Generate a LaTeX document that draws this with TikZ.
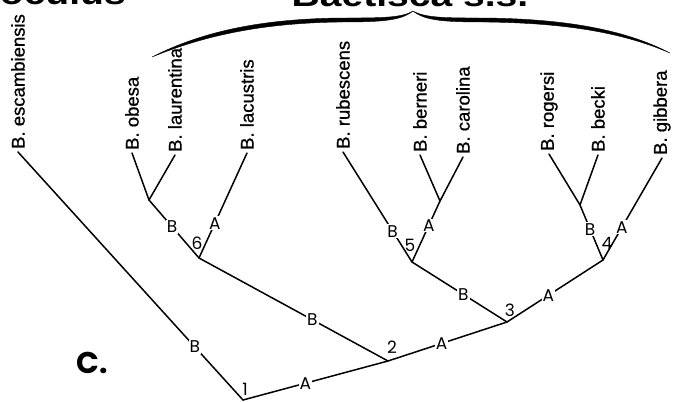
\documentclass[tikz,border=0pt]{standalone}
\usepackage{fontspec}
\setmainfont{Liberation Sans}
\newfontfamily\labfont{Poppins}
\newfontfamily\tipfont[FakeBold=0.8]{Liberation Sans}
\begin{document}
\begin{tikzpicture}[x=1pt,y=-1pt,
  branch/.style={line width=1.5pt, line cap=round, line join=round},
  tip/.style={rotate=90, anchor=west, inner sep=3pt, font=\tipfont\fontsize{18.5}{20}\selectfont},
  lab/.style={fill=white, inner sep=1pt, font=\labfont\fontsize{17}{17}\selectfont},
  num/.style={inner sep=0pt, font=\labfont\fontsize{17}{17}\selectfont},
  head/.style={inner sep=0pt, anchor=south, font=\bfseries\fontsize{32}{32}\selectfont}]
\useasboundingbox[fill=white] (0,0) rectangle (673,402);

% group headings (cut off at the top edge)
\node[head, anchor=south east, xscale=1.22] (hfam) at (126,5) {Fascioculus};
\node[head, xscale=1.22] (hbae) at (410,7) {Baetisca s.s.};

% brace
\path[fill=black, draw=black, line width=0.4pt]
  (152,57) .. controls (205,30) and (265,19) .. (340,18)
  .. controls (380,18) and (402,18) .. (413,11)
  .. controls (401,21) and (380,22) .. (340,22)
  .. controls (267,23) and (208,34) .. (152,57) -- cycle;
\path[fill=black, draw=black, line width=0.4pt]
  (413,11) .. controls (425,18) and (446,18) .. (486,18)
  .. controls (560,19) and (622,28) .. (670,53)
  .. controls (619,31) and (560,23) .. (486,22)
  .. controls (446,22) and (425,21) .. (413,11) -- cycle;

% tips
\node[tip] (esc) at (18,152) {B. escambiensis};
\node[tip] (obe) at (132,153) {B. obesa};
\node[tip] (lau) at (175,155) {B. laurentina};
\node[tip] (lac) at (247,153) {B. lacustris};
\node[tip] (rub) at (343,152) {B. rubescens};
\node[tip] (ber) at (420,155) {B. berneri};
\node[tip] (car) at (463,157) {B. carolina};
\node[tip] (rog) at (549,154) {B. rogersi};
\node[tip] (bec) at (598,155) {B. becki};
\node[tip] (gib) at (662,158) {B. gibbera};

% internal nodes
\coordinate (n1) at (243,400);
\coordinate (n2) at (388,361);
\coordinate (n3) at (507,322);
\coordinate (n4) at (603,260);
\coordinate (n5) at (412,262);
\coordinate (n6) at (199,258);
\coordinate (nol) at (149,200);
\coordinate (nbc) at (440,201);
\coordinate (nrb) at (580,205);

% branches
\draw[branch] (n1) -- node[lab,pos=0.214]{B} (esc.west);
\draw[branch] (n1) -- node[lab,pos=0.43]{A} (n2);
\draw[branch] (n2) -- node[lab,pos=0.40]{B} (n6);
\draw[branch] (n2) -- node[lab,pos=0.45]{A} (n3);
\draw[branch] (n3) -- node[lab,pos=0.46]{B} (n5);
\draw[branch] (n3) -- node[lab,pos=0.43]{A} (n4);
\draw[branch] (n6) -- node[lab,pos=0.54]{B} (nol);
\draw[branch] (n6) -- node[lab,pos=0.33]{A} (lac.west);
\draw[branch] (nol) -- (obe.west);
\draw[branch] (nol) -- (lau.west);
\draw[branch] (n5) -- node[lab,pos=0.28]{B} (rub.west);
\draw[branch] (n5) -- node[lab,pos=0.6]{A} (nbc);
\draw[branch] (nbc) -- (ber.west);
\draw[branch] (nbc) -- (car.west);
\draw[branch] (n4) -- node[lab,pos=0.56]{B} (nrb);
\draw[branch] (n4) -- node[lab,pos=0.32]{A} (gib.west);
\draw[branch] (nrb) -- (rog.west);
\draw[branch] (nrb) -- (bec.west);

% node numbers
\node[num] (k1) at (245,389) {1};
\node[num] (k2) at (392,347) {2};
\node[num] (k3) at (510,310) {3};
\node[num] (k4) at (607,243) {4};
\node[num] (k5) at (410,245) {5};
\node[num] (k6) at (197,243) {6};

% panel letter
\node[inner sep=0pt, font=\labfont\bfseries\fontsize{30}{30}\selectfont] (pc) at (92,363) {C.};
\end{tikzpicture}
\end{document}
